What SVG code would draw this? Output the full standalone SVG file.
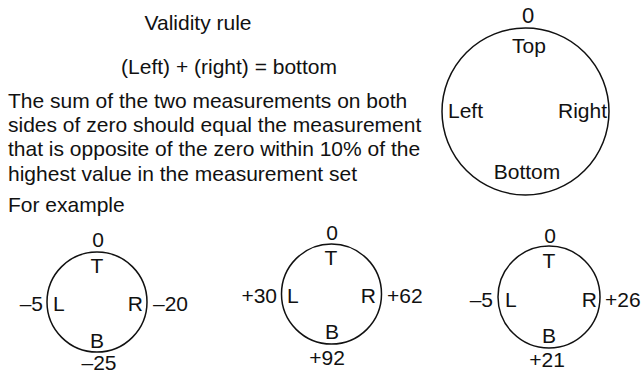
<svg xmlns="http://www.w3.org/2000/svg" width="641" height="376" viewBox="0 0 641 376">
<style>
text{font-family:"Liberation Sans",Arial,sans-serif;font-size:21px;fill:#111}
.m{text-anchor:middle}.e{text-anchor:end}
circle{fill:none;stroke:#111;stroke-width:1.5}
</style>
<rect width="641" height="376" fill="#fff"/>
<g id="rule-text">
<text class="m" x="198" y="30">Validity rule</text>
<text class="m" x="229" y="74">(Left) + (right) = bottom</text>
<text x="8" y="108">The sum of the two measurements on both</text>
<text x="8" y="132">sides of zero should equal the measurement</text>
<text x="8" y="156">that is opposite of the zero within 10% of the</text>
<text x="8" y="181">highest value in the measurement set</text>
<text x="8" y="212">For example</text>
</g>
<g id="main-circle">
<circle cx="525.5" cy="111.5" r="83.5"/>
<text class="m" x="528" y="23" style="font-size:22px">0</text>
<text class="m" x="529" y="53">Top</text>
<text x="448" y="118">Left</text>
<text class="e" x="607" y="118">Right</text>
<text class="m" x="527" y="179">Bottom</text>
</g>
<g id="example-1">
<circle cx="97" cy="302" r="50"/>
<text class="m" x="98" y="247">0</text>
<text class="m" x="97" y="273">T</text>
<text x="53" y="311">L</text>
<text class="e" x="143" y="311">R</text>
<text class="m" x="97" y="348">B</text>
<text class="m" x="99" y="370">–25</text>
<text class="e" x="43" y="311">–5</text>
<text x="153" y="311">–20</text>
</g>
<g id="example-2">
<circle cx="331.5" cy="294" r="50"/>
<text class="m" x="332" y="240">0</text>
<text class="m" x="331" y="265">T</text>
<text x="287" y="303">L</text>
<text class="e" x="376" y="303">R</text>
<text class="m" x="332" y="339">B</text>
<text class="m" x="327" y="365">+92</text>
<text class="e" x="277" y="303">+30</text>
<text x="387" y="303">+62</text>
</g>
<g id="example-3">
<circle cx="549" cy="297" r="51"/>
<text class="m" x="550" y="243">0</text>
<text class="m" x="549" y="268">T</text>
<text x="505" y="307">L</text>
<text class="e" x="597" y="307">R</text>
<text class="m" x="549" y="343">B</text>
<text class="m" x="547" y="367">+21</text>
<text class="e" x="493" y="307">–5</text>
<text x="605" y="307">+26</text>
</g>
<g id="connectors"/>
</svg>
